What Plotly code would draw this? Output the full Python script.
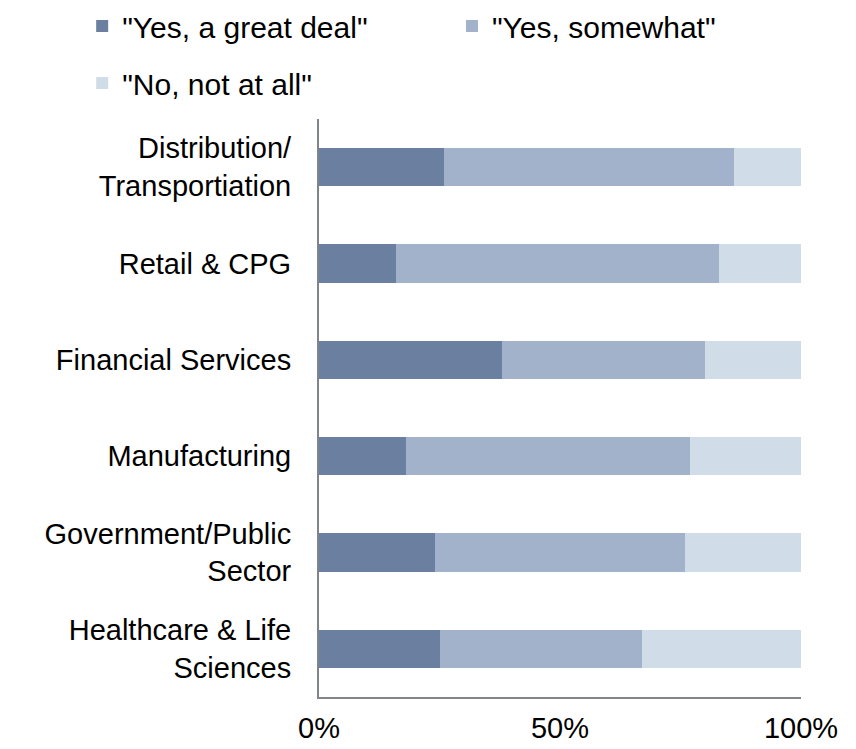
import plotly.graph_objects as go

categories = [
    "Distribution/<br>Transportiation",
    "Retail & CPG",
    "Financial Services",
    "Manufacturing",
    "Government/Public<br>Sector",
    "Healthcare & Life<br>Sciences",
]
great_deal = [26, 16, 38, 18, 24, 25]
somewhat = [60, 67, 42, 59, 52, 42]
not_at_all = [14, 17, 20, 23, 24, 33]

series_names = ['"Yes, a great deal"', '"Yes, somewhat"', '"No, not at all"']
colors = ["#6b7fa0", "#a2b2ca", "#d0dde8"]

FONT = "Liberation Sans, Arial, sans-serif"

fig = go.Figure()
for name, vals, col, leg in zip(series_names, [great_deal, somewhat, not_at_all], colors,
                                ["legend", "legend2", "legend3"]):
    fig.add_trace(go.Bar(
        y=categories, x=[v / 100 for v in vals], name=name, orientation="h",
        marker=dict(color=col, line=dict(width=0)), legend=leg, showlegend=True,
    ))

leg_common = dict(
    orientation="h", xref="container", yref="container",
    xanchor="left", yanchor="top", font=dict(size=30), itemwidth=30,
    bgcolor="rgba(0,0,0,0)", traceorder="normal",
)

fig.update_layout(
    width=856, height=749, showlegend=True,
    margin=dict(l=319, r=55, t=119, b=52, autoexpand=False),
    barmode="stack", bargap=0.605,
    paper_bgcolor="white", plot_bgcolor="white",
    font=dict(family=FONT, size=29, color="#000000"),
    legend=dict(x=0.096, y=1.0, **leg_common),
    legend2=dict(x=0.528, y=1.0, **leg_common),
    legend3=dict(x=0.096, y=0.924, **leg_common),
    xaxis=dict(
        range=[0, 1], tickvals=[0, 0.5, 1], tickformat=".0%",
        showgrid=False, zeroline=False, showline=True, automargin=False,
        linecolor="#7f8588", linewidth=2, ticks="outside", ticklen=4,
        tickcolor="rgba(0,0,0,0)", tickfont=dict(size=29),
    ),
    yaxis=dict(
        autorange="reversed", showgrid=False, zeroline=False, showline=True,
        automargin=False,
        linecolor="#7f8588", linewidth=2, ticks="outside", ticklen=20,
        tickcolor="rgba(0,0,0,0)", tickfont=dict(size=29),
    ),
)

fig.write_html("out.html")
